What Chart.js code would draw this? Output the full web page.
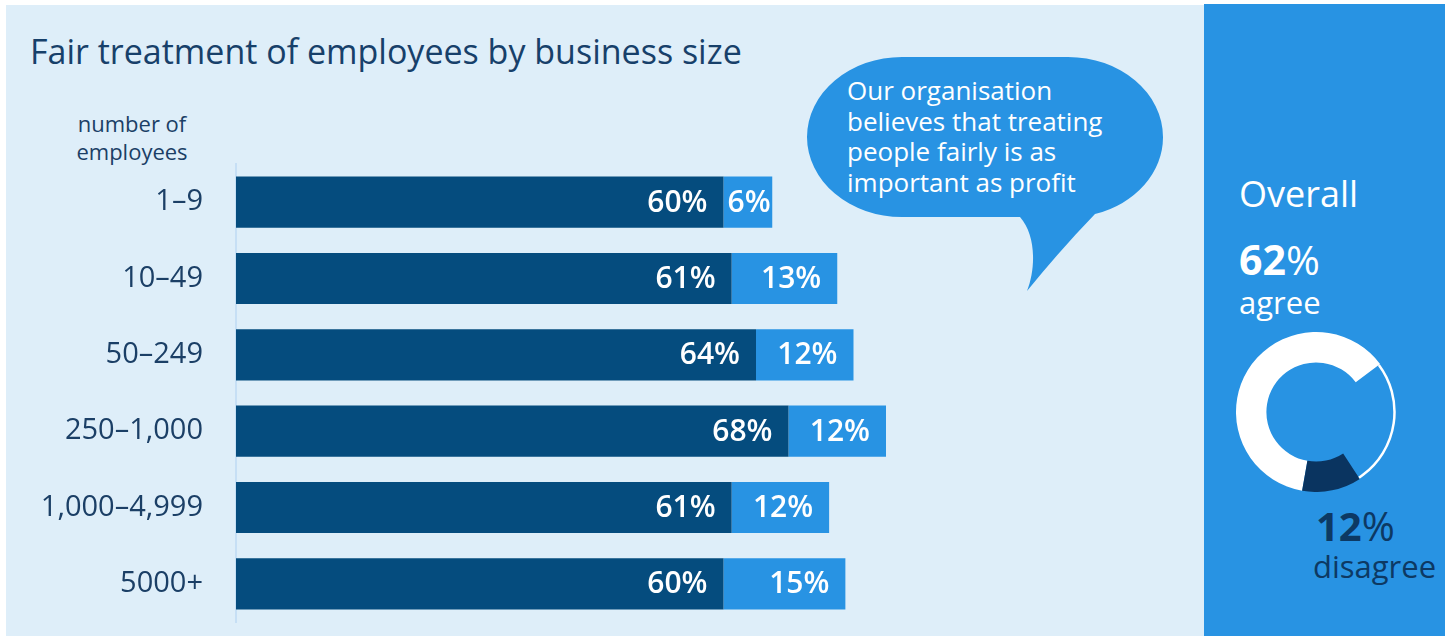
<!DOCTYPE html>
<html>
<head>
<meta charset="utf-8">
<script src="https://cdn.jsdelivr.net/npm/chart.js@4.4.1/dist/chart.umd.min.js"></script>
<style>
  html, body { margin: 0; padding: 0; background: #fff; }
  body { width: 1454px; height: 636px; position: relative; overflow: hidden; font-family: "Open Sans", sans-serif; }
  #left { position: absolute; left: 6px; top: 5px; width: 1198px; height: 631px; background: #deeef9; }
  #right { position: absolute; left: 1204px; top: 4px; width: 241px; height: 632px; background: #2893e3; }
  .txt { position: absolute; line-height: 1; white-space: nowrap; }
  #title { left: 30px; top: 34px; font-size: 34px; color: #17406a; }
  #axisTitle { left: 62px; top: 109px; width: 140px; text-align: center; font-size: 22px; line-height: 28px; color: #1b3f66; }
  #bubbleText { left: 847px; top: 75px; font-size: 26px; line-height: 30.5px; color: #fff; }
  #overall { left: 1239px; top: 176px; font-size: 36px; color: #fff; }
  #agreePct { left: 1239px; top: 239px; font-size: 41px; color: #fff; }
  #agree { left: 1239px; top: 287px; font-size: 31px; color: #fff; }
  #disPct { left: 1316px; top: 506px; font-size: 40px; color: #0d3963; }
  #dis { left: 1313px; top: 551px; font-size: 31px; color: #0d3963; }
  b { font-weight: 700; }
  #bars { position: absolute; left: 0; top: 0; width: 1100px; height: 636px; }
  #donut { position: absolute; left: 1236px; top: 332px; width: 160px; height: 160px; }
  svg { position: absolute; left: 0; top: 0; }
</style>
</head>
<body>
<div id="left"></div>
<div id="right"></div>
<svg width="1454" height="636">
  <path d="M 902 57 L 1068 57 A 95 80 0 0 1 1163 137 A 95 80 0 0 1 1095 214 Q 1062 248 1027 291 C 1036 268 1036 235 1020 217 L 902 217 A 95 80 0 0 1 807 137 A 95 80 0 0 1 902 57 Z" fill="#2893e3"/>
</svg>
<div class="txt" id="title">Fair treatment of employees by business size</div>
<div class="txt" id="axisTitle">number of<br>employees</div>
<div class="txt" id="bubbleText">Our organisation<br>believes that treating<br>people fairly is as<br>important as profit</div>
<div class="txt" id="overall">Overall</div>
<div class="txt" id="agreePct"><b>62</b>%</div>
<div class="txt" id="agree">agree</div>
<div class="txt" id="disPct"><b>12</b>%</div>
<div class="txt" id="dis">disagree</div>
<canvas id="bars" width="1100" height="636"></canvas>
<canvas id="donut" width="160" height="160"></canvas>
<script>
// business size bands
const sizes = ["1–9", "10–49", "50–249", "250–1,000", "1,000–4,999", "5000+"];
// % agree / % disagree per band
const agreeVals = [60, 61, 64, 68, 61, 60];
const disagreeVals = [6, 13, 12, 12, 12, 15];
// overall split: agree, neither, disagree
const overallLabels = ["agree", "neither", "disagree"];
const overallVals = [62, 26, 12];

const darkBlue = "#054c7e";
const lightBlue = "#2893e3";

// white % labels at the end of each segment
const barLabels = {
  id: "barLabels",
  afterDatasetsDraw(chart) {
    const ctx = chart.ctx;
    ctx.save();
    ctx.font = '600 30px "Open Sans"';
    ctx.fillStyle = "#fff";
    ctx.textAlign = "right";
    ctx.textBaseline = "middle";
    chart.data.datasets.forEach((ds, i) => {
      chart.getDatasetMeta(i).data.forEach((bar, j) => {
        const txt = ds.data[j] + "%";
        const w = ctx.measureText(txt).width;
        const x = Math.max(bar.x - 16, bar.base + 4 + w);
        ctx.fillText(txt, x, bar.y + 1);
      });
    });
    ctx.restore();
  }
};

const barChart = new Chart(document.getElementById("bars"), {
  type: "bar",
  data: {
    labels: sizes,
    datasets: [
      { label: "Agree", data: agreeVals, backgroundColor: darkBlue },
      { label: "Disagree", data: disagreeVals, backgroundColor: lightBlue }
    ]
  },
  options: {
    indexAxis: "y",
    responsive: false,
    animation: false,
    events: [],
    layout: { padding: { top: 164, bottom: 14, left: 0, right: 51.5 } },
    datasets: { bar: { categoryPercentage: 1, barPercentage: 0.67 } },
    plugins: { legend: { display: false }, tooltip: { enabled: false } },
    scales: {
      x: { stacked: true, min: 0, max: 100, display: false },
      y: {
        stacked: true,
        // invisible tick marks push the labels left without adding vertical padding
        grid: { color: "transparent", tickColor: "transparent", drawTicks: true, tickLength: 33 },
        border: { color: "#c6dff5", width: 2 },
        ticks: { padding: 0, color: "#1b3f66", font: { family: "Open Sans", size: 29, lineHeight: 0.9 } },
        afterFit(axis) { axis.width = 236; }
      }
    }
  },
  plugins: [barLabels]
});

// nudge the padding so the plot area lands at 164..622
const ca = barChart.chartArea;
const lp = barChart.config.options.layout.padding;
lp.top += 164 - ca.top;
lp.bottom += ca.bottom - 622;
lp.right += ca.right - 1048.5;
barChart.update();

// thin outline for the "neither" part of the ring
const ringLine = {
  id: "ringLine",
  afterDatasetsDraw(chart) {
    const arc = chart.getDatasetMeta(0).data[1];
    const ctx = chart.ctx;
    ctx.save();
    ctx.strokeStyle = "#fff";
    ctx.lineWidth = 2.5;
    ctx.beginPath();
    ctx.arc(arc.x, arc.y, arc.outerRadius - 1.5, arc.startAngle, arc.endAngle);
    ctx.stroke();
    ctx.restore();
  }
};

new Chart(document.getElementById("donut"), {
  type: "doughnut",
  data: {
    labels: overallLabels,
    datasets: [{
      data: overallVals,
      backgroundColor: ["#ffffff", "rgba(0,0,0,0)", "#0a3460"],
      borderWidth: 0,
      hoverBorderWidth: 0
    }]
  },
  options: {
    responsive: false,
    animation: false,
    events: [],
    rotation: 190,
    cutout: "62%",
    plugins: { legend: { display: false }, tooltip: { enabled: false } }
  },
  plugins: [ringLine]
});
</script>
</body>
</html>
